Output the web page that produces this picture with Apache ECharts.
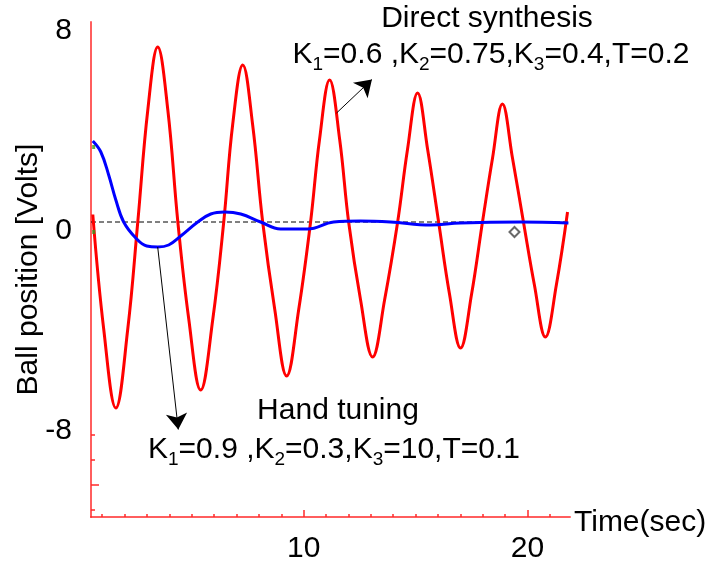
<!DOCTYPE html>
<html>
<head>
    <title>Ball position response</title>
    <script src="https://cdn.jsdelivr.net/npm/echarts@6/dist/echarts.min.js"></script>
    <style>
        html, body { margin: 0; padding: 0; background: #fff; }
    </style>
</head>
<body>
    <div id="main" style="width: 712px;height:561px;"></div>
    <script type="text/javascript">
        // direct synthesis response (red)
        var timeRed = [0.58, 1.07, 1.61, 2.14, 2.59, 3.04, 3.48, 3.93, 4.38, 4.87, 5.40, 5.94, 6.43,
            6.83, 7.28, 7.72, 8.17, 8.71, 9.24, 9.78, 10.31, 10.71, 11.16, 11.61, 12.01, 12.54,
            13.08, 13.62, 14.20, 14.64, 15.09, 15.54, 16.03, 16.52, 17.01, 17.50, 17.99, 18.44,
            18.88, 19.33, 19.82, 20.31, 20.80, 21.29, 21.79];
        var posRed = [0.3, -4.3, -7.44, -4.3, 0, 4.5, 7.0, 4.5, 0, -3.9, -6.72, -3.9, 0,
            3.9, 6.28, 3.9, 0, -3.5, -6.16, -3.5, 0, 3.3, 5.68, 3.3, 0, -3.1,
            -5.4, -3.1, 0, 2.9, 5.16, 2.9, 0, -2.9, -5.04, -2.9, 0, 2.56,
            4.72, 2.56, 0, -2.52, -4.6, -2.52, 0.4];

        // hand tuning response (blue)
        var timeBlue = [0.58, 0.94, 1.29, 1.61, 1.96, 2.5, 2.99, 3.48, 3.97, 4.51, 5.27, 5.85,
            6.47, 7.19, 8.08, 8.97, 10.18, 11.34, 12.54, 13.88, 15.67, 17.0, 19.7, 21.83];
        var posBlue = [3.24, 2.8, 1.88, 0.88, 0, -0.64, -0.96, -1.0, -0.92, -0.56, 0, 0.32,
            0.4, 0.32, 0, -0.28, -0.28, 0, 0.04, 0, -0.12, -0.04, 0, -0.04];

        var zeroLine = [[0.5, 0], [21.9, 0]];
        var diamondPt = [[19.42, -0.4]];
        var greenPts = [[0.62, 3.0], [0.62, -0.4]];

        var xTicks = [1, 2, 3, 4, 5, 6, 7, 8, 9, 10, 11, 12, 13, 14, 15, 16, 17, 18, 19, 20, 21];
        var xMajor = [10, 20];
        var yLabels = [8, 0, -8];
        var yTicks = [-8.5, -9.5, -10.5, -11.5];
        var yMajor = [-10.5];

        // arrow ends in data units: [from, to]
        var arrowDirect = [[11.47, 4.36], [13.05, 5.7]];
        var arrowHand = [[3.48, -1.0], [4.4, -8.3]];

        function zip(a, b) {
            return a.map(function (v, i) { return [v, b[i]]; });
        }

        var font = 'Liberation Sans, Arial, sans-serif';
        var axisRed = 'rgba(255,40,40,0.75)';

        var myChart = echarts.init(document.getElementById('main'));

        var subStyle = { fontSize: 19, fontFamily: font, fill: '#000', lineHeight: 46, verticalAlign: 'bottom' };
        var mainStyle = { fontSize: 30, fontFamily: font, fill: '#000' };

        var option = {
            animation: false,
            grid: { left: 91, right: 142, top: 22, bottom: 44, containLabel: false, outerBoundsMode: 'none' },
            xAxis: [{
                type: 'value',
                min: 0.5,
                max: 21.9,
                name: 'Time(sec)',
                nameLocation: 'end',
                nameGap: 4,
                nameTextStyle: { fontSize: 30, fontFamily: font, color: '#000', verticalAlign: 'top', lineHeight: 12 },
                axisLine: { show: true, onZero: false, lineStyle: { color: axisRed, width: 2 } },
                axisTick: { show: true, inside: true, length: 3, customValues: xTicks, lineStyle: { color: axisRed, width: 2 } },
                axisLabel: { customValues: xMajor, fontSize: 30, fontFamily: font, color: '#000', margin: 6 },
                splitLine: { show: false }
            }, {
                type: 'value',
                min: 0.5,
                max: 21.9,
                position: 'bottom',
                offset: 0,
                axisLine: { show: false, onZero: false },
                axisTick: { show: true, inside: true, length: 7, customValues: xMajor, lineStyle: { color: axisRed, width: 2 } },
                axisLabel: { show: false },
                splitLine: { show: false }
            }],
            yAxis: [{
                type: 'value',
                min: -11.8,
                max: 8,
                name: 'Ball position [Volts]',
                nameLocation: 'middle',
                nameGap: 36,
                nameMoveOverlap: false,
                nameTextStyle: { fontSize: 30, fontFamily: font, color: '#000' },
                axisLine: { show: true, onZero: false, lineStyle: { color: axisRed, width: 2 } },
                axisTick: { show: true, inside: true, length: 4, customValues: yTicks, lineStyle: { color: axisRed, width: 2 } },
                axisLabel: { customValues: yLabels, fontSize: 30, fontFamily: font, color: '#000', margin: 19, verticalAlign: 'top', lineHeight: 18 },
                splitLine: { show: false }
            }, {
                type: 'value',
                min: -11.8,
                max: 8,
                position: 'left',
                offset: 0,
                axisLine: { show: false, onZero: false },
                axisTick: { show: true, inside: true, length: 8, customValues: yMajor, lineStyle: { color: axisRed, width: 2 } },
                axisLabel: { show: false },
                splitLine: { show: false }
            }],
            series: [{
                type: 'line',
                data: zeroLine,
                showSymbol: false,
                silent: true,
                z: 1,
                lineStyle: { color: '#000', width: 1, type: [5, 3] }
            }, {
                type: 'line',
                data: zip(timeRed, posRed),
                showSymbol: false,
                smooth: 0.4,
                z: 2,
                lineStyle: { color: '#ff0000', width: 3 }
            }, {
                type: 'line',
                data: zip(timeBlue, posBlue),
                showSymbol: false,
                smooth: 0.4,
                z: 3,
                lineStyle: { color: '#0000ff', width: 3 },
                markLine: {
                    silent: true,
                    symbol: ['none', 'arrow'],
                    symbolSize: 16,
                    label: { show: false },
                    lineStyle: { color: '#000', width: 1, type: 'solid' },
                    itemStyle: { color: '#000' },
                    data: [
                        [{ coord: arrowDirect[0] }, { coord: arrowDirect[1] }],
                        [{ coord: arrowHand[0] }, { coord: arrowHand[1] }]
                    ]
                }
            }, {
                type: 'scatter',
                data: diamondPt,
                symbol: 'emptyDiamond',
                symbolSize: 10,
                z: 4,
                itemStyle: { color: '#444', borderWidth: 1 }
            }, {
                type: 'scatter',
                data: greenPts,
                symbol: 'rect',
                symbolSize: [3, 4],
                z: 4,
                itemStyle: { color: '#3a9a1a' }
            }],
            graphic: [{
                type: 'text',
                x: 487, y: 19,
                style: Object.assign({ text: 'Direct synthesis', align: 'center', verticalAlign: 'middle' }, mainStyle)
            }, {
                type: 'text',
                x: 491, y: 55,
                style: Object.assign({
                    text: 'K{s|1}=0.6 ,K{s|2}=0.75,K{s|3}=0.4,T=0.2',
                    align: 'center', verticalAlign: 'middle',
                    rich: { s: subStyle }
                }, mainStyle)
            }, {
                type: 'text',
                x: 338, y: 411,
                style: Object.assign({ text: 'Hand tuning', align: 'center', verticalAlign: 'middle' }, mainStyle)
            }, {
                type: 'text',
                x: 334, y: 450,
                style: Object.assign({
                    text: 'K{s|1}=0.9 ,K{s|2}=0.3,K{s|3}=10,T=0.1',
                    align: 'center', verticalAlign: 'middle',
                    rich: { s: subStyle }
                }, mainStyle)
            }]
        };

        myChart.setOption(option);
    </script>
</body>
</html>
